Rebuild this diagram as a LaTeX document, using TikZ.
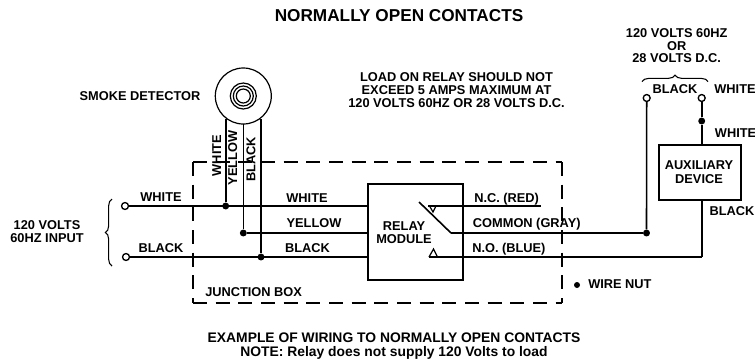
\documentclass[tikz,border=0pt]{standalone}
\usepackage{fontspec}
\setmainfont{Liberation Sans}
\usetikzlibrary{decorations.pathreplacing,calc}
\tikzset{
 wire/.style={line width=1.2pt,black},
 txt/.style={font=\fontsize{9.6}{9.6}\selectfont\bfseries,inner sep=0pt,align=center,text=black},
 term/.style={circle,draw,line width=1pt,fill=white,minimum size=5.2pt,inner sep=0pt},
 dotn/.style={circle,fill=black,minimum size=5.2pt,inner sep=0pt},
 box/.style={draw,line width=1.2pt,fill=white,inner sep=0pt},
 dash box/.style={line width=1pt,dash pattern=on 10.5pt off 6.5pt},
 bracec/.style={line width=0.8pt,decorate,decoration={brace,amplitude=5pt}},
 ring/.style={circle,draw,line width=0.9pt,inner sep=0pt}
}
\begin{document}
\begin{tikzpicture}[x=0.75pt,y=-0.75pt]
\useasboundingbox (0,0) rectangle (755,362);
% junction box
\coordinate (jtl) at (193,162);\coordinate (jtr) at (562,162);\coordinate (jbr) at (562,303);\coordinate (jbl) at (193,303);
\draw[dash box] (jtl) -- (jtr);
\draw[dash box] (jtl) -- (jbl);
\draw[dash box] (jtr) -- (jbr);
\draw[dash box] (jbl) -- (jbr);
% detector
\node[ring,minimum size=42pt] (det) at (243.3,96) {};
\node[ring,minimum size=19.5pt] (r1) at (243.3,96) {};
\node[ring,minimum size=15pt] (r2) at (243.3,96) {};
\node[ring,minimum size=10.5pt] (r3) at (243.3,96) {};
% terminals & junctions
\node[term] (tw) at (125,206) {};
\node[term] (tb) at (126,257) {};
\node[dotn] (dw) at (225.7,206) {};
\node[dotn] (dy) at (243.3,233) {};
\node[dotn] (db) at (261,257) {};
\coordinate (dwt) at (225.7,119);
\coordinate (dyt) at (243.3,124);
\coordinate (dbt) at (261,119);
\node[box,minimum width=71.5pt,minimum height=72pt] (relay) at (415.5,232) {};
\node[txt] (relayt) at (404,233) {RELAY\\MODULE};
\coordinate (wl) at (relay.west |- dw);
\coordinate (yl) at (relay.west |- dy);
\coordinate (bl) at (relay.west |- db);
\draw[wire] (tw) -- (wl);
\draw[wire] (dy) -- (yl);
\draw[wire] (tb) -- (bl);
\draw[wire] (dwt) -- (dw);
\draw[wire] (dyt) -- (dy);
\draw[wire] (dbt) -- (db);
% relay internals
\coordinate (ncs) at (428,206);\coordinate (nce) at (541,206);
\coordinate (arm) at (419,202);\coordinate (com) at (451,233);
\node[dotn] (dc) at (646.5,233) {};
\node[term] (ta) at (646.7,98) {};
\node[term] (tc) at (701.7,98) {};
\node[dotn] (dn) at (701.7,121) {};
\node[box,minimum width=61.5pt,minimum height=41pt,align=center] (aux) at (700,172.5) {};
\node[txt] (auxt) at (699,172) {AUXILIARY\\[0.9pt]DEVICE};
\coordinate (noe) at (429,257);
\coordinate (nof) at (701.7,257);
\draw[wire] (ncs) -- (nce);
\draw[wire] (arm) -- (com);
\draw[wire] (com) -- (dc);
\draw[wire] (noe) -- (nof);
\draw[wire] (nof) -- (aux.south -| nof);
\draw[wire] (dc) -- (ta);
\draw[wire] (tc) -- (dn);
\draw[wire] (dn) -- (aux.north -| dn);
\coordinate (ncv) at (429.5,206);\coordinate (ncw) at (433,212);\coordinate (ncu) at (436,206);
\draw[line width=0.9pt] (ncv) -- (ncw) -- (ncu);
\coordinate (na) at (433.5,249);\coordinate (nb) at (437.5,257);
\draw[line width=0.9pt] (noe) -- (na) -- (nb);
% braces
\coordinate (b1) at (112,266);\coordinate (b2) at (112,199);
\draw[bracec] (b1) -- (b2);
\coordinate (b3) at (642,81.7);\coordinate (b4) at (708,81.7);
\draw[bracec] (b3) -- (b4);
% wire nut
\node[dotn,minimum size=4.5pt] (nut) at (577,285) {};
% texts
\node[txt,font=\fontsize{12.9}{13}\selectfont\bfseries] (title) at (399,15.5) {NORMALLY OPEN CONTACTS};
\node[txt] (sd) at (140,95.7) {SMOKE DETECTOR};
\node[txt] (load) at (456.5,90.5) {LOAD ON RELAY SHOULD NOT\\[0.2pt]EXCEED 5 AMPS MAXIMUM AT\\[0.2pt]120 VOLTS 60HZ OR 28 VOLTS D.C.};
\node[txt] (src) at (676.7,45.7) {120 VOLTS 60HZ\\OR\\28 VOLTS D.C.};
\node[txt] (sb) at (675,89.3) {BLACK};
\node[txt] (sw) at (735,89.3) {WHITE};
\node[txt] (aw) at (735.6,132.7) {WHITE};
\node[txt] (ab) at (732,211) {BLACK};
\node[txt,rotate=90] (vw) at (216.7,155.5) {WHITE};
\node[txt,rotate=90] (vy) at (232.7,158) {YELLOW};
\node[txt,rotate=90] (vb) at (251,159.5) {BLACK};
\node[txt] (lw) at (161,197.4) {WHITE};
\node[txt] (lb) at (161,248.3) {BLACK};
\node[txt] (mw) at (307,197.7) {WHITE};
\node[txt] (my) at (314,223) {YELLOW};
\node[txt] (mb) at (307.5,247.7) {BLACK};
\node[txt,anchor=west] (nc) at (474,199) {N.C. (RED)};
\node[txt,anchor=west] (cg) at (472.7,224.3) {COMMON (GRAY)};
\node[txt,anchor=west] (no) at (472,249.3) {N.O. (BLUE)};
\node[txt] (in) at (47,231.5) {120 VOLTS\\[0.4pt]60HZ INPUT};
\node[txt,anchor=west] (jb) at (205,291.7) {JUNCTION BOX};
\node[txt,anchor=west] (wn) at (588,284.5) {WIRE NUT};
\node[txt,font=\fontsize{10.4}{10.3}\selectfont\bfseries] (foot) at (394,346) {EXAMPLE OF WIRING TO NORMALLY OPEN CONTACTS\\NOTE: Relay does not supply 120 Volts to load};
\end{tikzpicture}
\end{document}
